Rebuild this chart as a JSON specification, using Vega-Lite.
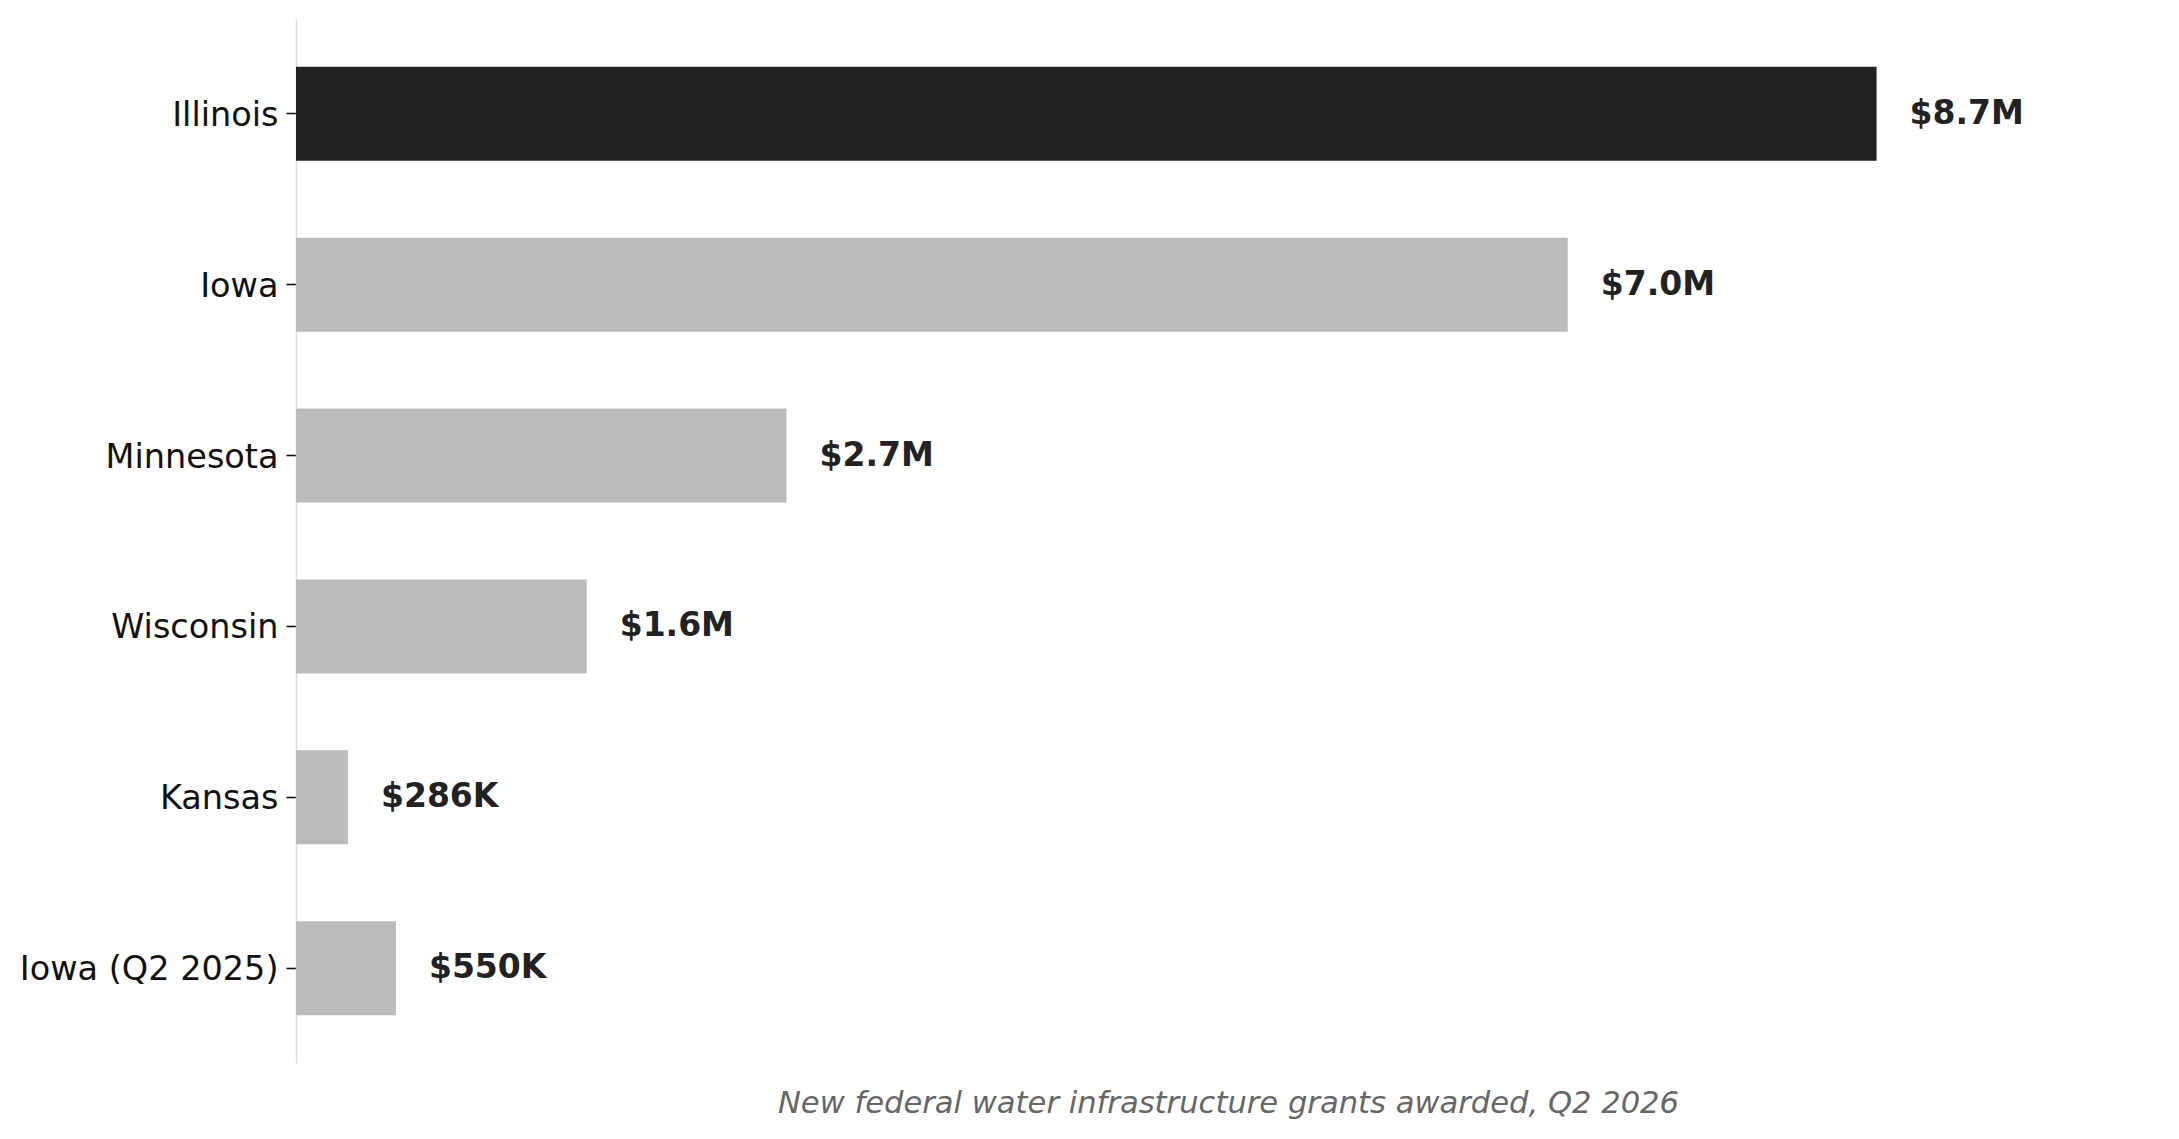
{
  "$schema": "https://vega.github.io/schema/vega-lite/v6.json",
  "autosize": {"type": "none"},
  "padding": {"left": 296, "top": 19, "right": 19, "bottom": 76},
  "width": 1864,
  "height": 1044,
  "background": "white",
  "config": {"view": {"stroke": null}, "font": "DejaVu Sans"},
  "data": {"values": [
    {"state": "Illinois", "amount": 8700000, "label": "$8.7M"},
    {"state": "Iowa", "amount": 7000000, "label": "$7.0M"},
    {"state": "Minnesota", "amount": 2700000, "label": "$2.7M"},
    {"state": "Wisconsin", "amount": 1600000, "label": "$1.6M"},
    {"state": "Kansas", "amount": 286000, "label": "$286K"},
    {"state": "Iowa (Q2 2025)", "amount": 550000, "label": "$550K"}
  ]},
  "encoding": {
    "y": {
      "field": "state", "type": "nominal", "sort": null,
      "scale": {"paddingInner": 0.45, "paddingOuter": 0.28},
      "axis": {
        "title": null, "labelFont": "DejaVu Sans", "labelFontSize": 33.5, "labelColor": "#111111",
        "labelPadding": 8, "labelOffset": 2, "tickSize": 10, "tickColor": "#111111", "tickWidth": 1.6,
        "domainColor": "#dddddd", "domainWidth": 1.5, "labelLimit": 600
      }
    },
    "x": {
      "field": "amount", "type": "quantitative",
      "scale": {"domain": [0, 10260000], "nice": false},
      "axis": {
        "labels": false, "ticks": false, "domain": false, "grid": false,
        "title": "New federal water infrastructure grants awarded, Q2 2026",
        "titleFont": "DejaVu Sans", "titleFontSize": 30.6, "titleFontStyle": "italic",
        "titleFontWeight": "normal", "titleColor": "#666666", "titlePadding": 25
      }
    }
  },
  "layer": [
    {
      "mark": {"type": "bar"},
      "encoding": {
        "color": {
          "condition": {"test": "datum.state === 'Illinois'", "value": "#222222"},
          "value": "#bbbbbb"
        }
      }
    },
    {
      "mark": {"type": "text", "align": "left", "baseline": "middle", "dx": 33, "fontSize": 33, "fontWeight": "bold", "color": "#222222", "font": "DejaVu Sans"},
      "encoding": {"text": {"field": "label"}}
    }
  ]
}
